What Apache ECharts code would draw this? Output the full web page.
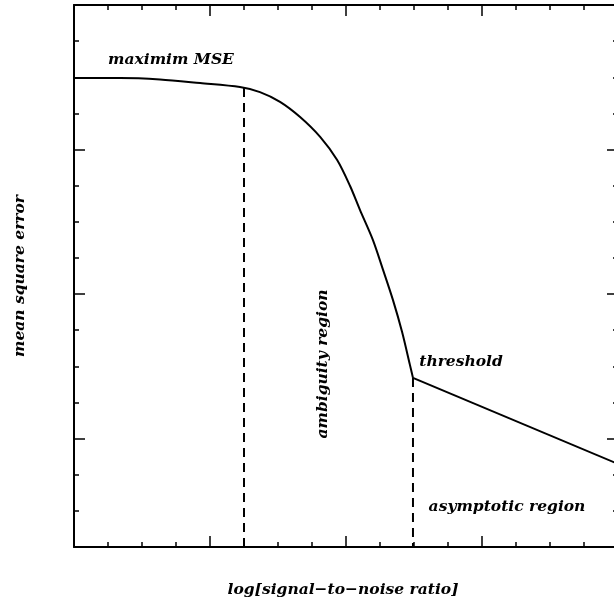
<!DOCTYPE html>
<html>
<head>
<meta charset="utf-8">
<script src="https://cdn.jsdelivr.net/npm/echarts@6/dist/echarts.min.js"></script>
<style>
  html, body { margin: 0; padding: 0; background: #fff; }
  #mse { width: 614px; height: 605px; }
</style>
</head>
<body>
<div id="mse"></div>
<script>
// MSE vs log SNR (schematic, axis units, no labels)
// smooth part up to the threshold, then the straight asymptote
const snrCurve = [0, 1.35, 2.53, 3.71, 4.88, 5.47, 6.06, 6.65, 7.24, 7.74, 8.12, 8.41, 8.79, 9.09, 9.38, 9.65, 9.88, 9.97];
const mseCurve = [12.98, 12.98, 12.94, 12.84, 12.73, 12.59, 12.32, 11.90, 11.35, 10.71, 9.99, 9.33, 8.50, 7.67, 6.84, 5.95, 5.04, 4.68];
const snrAsym = [9.97, 16];
const mseAsym = [4.68, 2.3];
// dashed boundaries: [x, y on curve]
const bounds = [[5.0, 12.70], [9.97, 4.68]];
const xMajor = [0, 4, 8, 12, 16];
const yMajor = [3, 7, 11, 15];
const xMinor = [...Array(17).keys()];
const yMinor = [...Array(16).keys()];

const chart = echarts.init(document.getElementById('mse'));

function axis (type, pos, ticks, len, line) {
  return {
    type: 'value',
    position: pos,
    min: 0,
    max: type === 'x' ? 16 : 15,
    axisLine: { show: line, onZero: false, lineStyle: { color: '#000', width: 2 } },
    axisTick: { show: true, inside: true, length: len, customValues: ticks, lineStyle: { color: '#000', width: 1.5 } },
    axisLabel: { show: false },
    splitLine: { show: false }
  };
}

function label (text, x, y, rot) {
  return {
    type: 'text',
    x: x, y: y,
    rotation: rot || 0,
    style: {
      text: text,
      fontFamily: 'DejaVu Serif',
      fontStyle: 'italic',
      fontWeight: 'bold',
      fontSize: 15.5,
      fill: '#000',
      align: 'center',
      verticalAlign: 'middle'
    }
  };
}

const line = { color: '#000', width: 2 };

const option = {
  backgroundColor: '#fff',
  animation: false,
  grid: { left: 74, right: -4, top: 5, bottom: 58, outerBoundsMode: 'none' },
  xAxis: [
    axis('x', 'bottom', xMajor, 11, true),
    axis('x', 'bottom', xMinor, 5, false),
    axis('x', 'top', xMajor, 11, true),
    axis('x', 'top', xMinor, 5, false)
  ],
  yAxis: [
    axis('y', 'left', yMajor, 11, true),
    axis('y', 'left', yMinor, 5, false),
    axis('y', 'right', yMajor, 11, true),
    axis('y', 'right', yMinor, 5, false)
  ],
  series: [
    {
      type: 'line',
      data: snrCurve.map((x, i) => [x, mseCurve[i]]),
      symbol: 'none',
      smooth: 0.3,
      lineStyle: line
    },
    {
      type: 'line',
      data: snrAsym.map((x, i) => [x, mseAsym[i]]),
      symbol: 'none',
      lineStyle: line
    }
  ].concat(bounds.map(b => ({
    type: 'line',
    data: [[b[0], b[1]], [b[0], 0]],
    symbol: 'none',
    lineStyle: { color: '#000', width: 2, type: [9, 6] }
  }))),
  graphic: [
    label('maximim MSE', 171, 60),
    label('threshold', 461, 362),
    label('asymptotic region', 507, 507),
    label('ambiguity region', 323, 364, Math.PI / 2),
    label('log[signal\u2212to\u2212noise ratio]', 343, 590),
    label('mean square error', 20, 276, Math.PI / 2)
  ]
};

chart.setOption(option);
</script>
</body>
</html>
